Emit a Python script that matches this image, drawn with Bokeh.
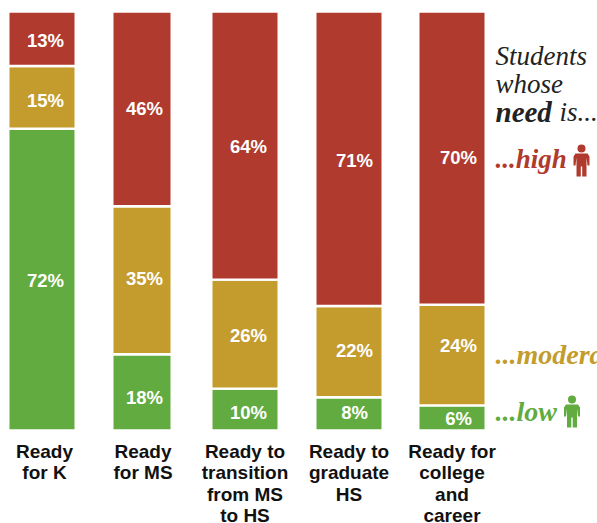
from bokeh.plotting import figure
from bokeh.embed import file_html
from bokeh.resources import INLINE
from bokeh.models import ColumnDataSource, Range1d
from bokeh.core.properties import value

# ---- data
categories = ["Ready\nfor K", "Ready\nfor MS", "Ready to\ntransition\nfrom MS\nto HS",
              "Ready to\ngraduate\nHS", "Ready for\ncollege\nand\ncareer"]
low = [72, 18, 10, 8, 6]
moderate = [15, 35, 26, 22, 24]
high = [13, 46, 64, 71, 70]

RED, GOLD, GREEN = "#AF3A2D", "#C39C2D", "#62AB40"
INK = "#222222"
SERIF = value("Liberation Serif")
SANS = value("Liberation Sans")

# ---- layout: page pixels
W, H = 597, 523
Y0_PAGE, Y100_PAGE = 430.0, 11.0
STROKE = 2.4
centers = [41.5, 141.5, 244.5, 348.5, 451.5]
widths = [67.4, 59.4, 67.4, 67.4, 67.4]
label_dx = [3.5, 2.5, 3.5, 5.5, 6.5]
label_py = {
    "high": [40, 108, 146, 160, 157],
    "moderate": [100, 278, 335, 350, 345],
    "low": [280, 397, 412, 412, 418],
}
cat_dx = [2.5, 1, 0, 0, 0]


def py(page_y):
    """page y pixel -> percentage scale"""
    return (Y0_PAGE - page_y) / (Y0_PAGE - Y100_PAGE) * 100


p = figure(width=W, height=H, output_backend="svg", toolbar_location=None, min_border=0,
           x_range=Range1d(0, W), y_range=Range1d(py(H), py(0)),
           outline_line_color=None, background_fill_color="white")
p.grid.visible = False
p.axis.visible = False

# stacked, scaled so that each column fills 0..100 (published shares are rounded)
totals = [a + b + c for a, b, c in zip(low, moderate, high)]
lo_top = [a / t * 100 for a, t in zip(low, totals)]
mo_top = [(a + b) / t * 100 for a, b, t in zip(low, moderate, totals)]
top = [100.0] * len(low)
zero = [0.0] * len(low)

for bottoms, tops, color, vals, key in [(zero, lo_top, GREEN, low, "low"),
                                        (lo_top, mo_top, GOLD, moderate, "moderate"),
                                        (mo_top, top, RED, high, "high")]:
    src = ColumnDataSource(dict(x=centers, w=widths, b=bottoms, t=tops))
    p.vbar(x="x", width="w", bottom="b", top="t", source=src, fill_color=color,
           line_color="white", line_width=STROKE)
    p.text(x=[c + d for c, d in zip(centers, label_dx)],
           y=[py(v) for v in label_py[key]],
           text=[f"{v}%" for v in vals], text_color="white",
           text_font=SANS, text_font_style="bold", text_font_size="18.5px",
           text_align="center", text_baseline="middle")

# category labels under the columns
p.text(x=[c + d for c, d in zip(centers, cat_dx)], y=[py(440)] * len(centers), text=categories,
       text_color="#111111", text_font=SANS, text_font_style="bold", text_font_size="19px",
       text_align="center", text_baseline="top", text_line_height=1.03)


# key at the right
def note(x, y, text, color=INK, style="italic", size="27px"):
    p.text(x=[x], y=[py(y)], text=[text], text_color=color, text_font=SERIF,
           text_font_style=style, text_font_size=size, text_baseline="alphabetic")


note(495, 55, "Students")
note(495, 83, "whose")
note(495, 111, "need", style="bold italic", size="29px")
note(559, 111, "is...")
note(495, 158, "...high", RED, "bold italic")
note(495, 354, "...moderate", GOLD, "bold italic", "28px")
note(495, 411, "...low", GREEN, "bold italic", "28px")


def person(cx, top_y, color):
    """small standing figure, 16 wide and 32 tall"""
    p.ellipse(x=[cx], y=[py(top_y + 4)], width=8, height=8 * 100 / (Y0_PAGE - Y100_PAGE),
              fill_color=color, line_color=None)
    xs = [-8, -6, 6, 8, 8, 6, 5, 5, 0.7, 0.7, -0.7, -0.7, -5, -5, -6, -8]
    ys = [12, 9, 9, 12, 21, 21, 13, 32, 32, 22, 22, 32, 32, 13, 21, 21]
    p.patch([cx + a for a in xs], [py(top_y + b) for b in ys],
            fill_color=color, line_color=None)


person(581, 144, RED)
person(571.5, 395, GREEN)

open("out.html", "w").write(file_html(p, INLINE))
